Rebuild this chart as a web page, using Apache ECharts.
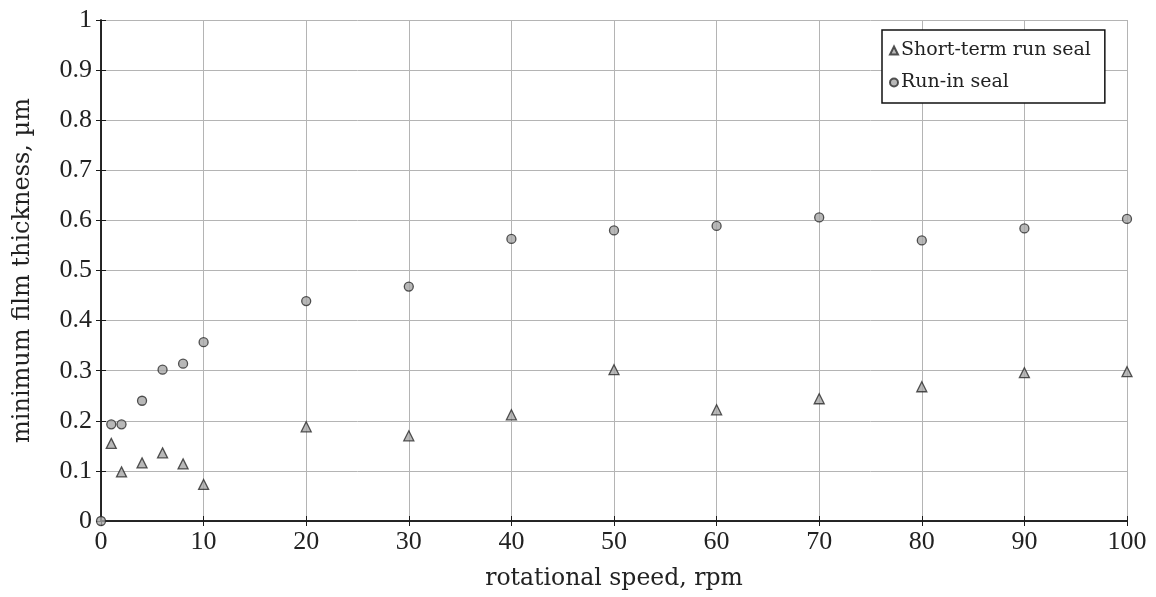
<!DOCTYPE html>
<html>
<head>
<meta charset="utf-8">
<script src="https://cdn.jsdelivr.net/npm/echarts@6/dist/echarts.min.js"></script>
<style>
  html, body { margin: 0; padding: 0; background: #fff; }
  #chart1 { width: 1156px; height: 597px; }
</style>
</head>
<body>
<div id="chart1"></div>
<script>
// rotational speed, rpm
var speed = [0, 1, 2, 4, 6, 8, 10, 20, 30, 40, 50, 60, 70, 80, 90, 100];
var shortTermX = [1, 2, 4, 6, 8, 10, 20, 30, 40, 50, 60, 70, 80, 90, 100];
var shortTerm = [0.155, 0.098, 0.116, 0.136, 0.114, 0.073, 0.188, 0.170, 0.212, 0.302, 0.222, 0.244, 0.268, 0.296, 0.298];
var runIn = [0, 0.193, 0.193, 0.240, 0.302, 0.314, 0.357, 0.439, 0.468, 0.563, 0.580, 0.589, 0.606, 0.560, 0.584, 0.603];
var seriesNames = ['Short-term run seal', 'Run-in seal'];

var font = 'Liberation Serif';
var nameFont = 'DejaVu Serif';
var gridColor = '#b4b4b4';
var axisColor = '#1a1a1a';

function pairs(xs, ys) {
    return xs.map(function(x, i) { return [x, ys[i]]; });
}

var markerStyle = { color: '#a6a6a6', borderColor: '#2a2a2a', borderWidth: 1.3 };

var option = {
    backgroundColor: '#fff',
    animation: false,
    textStyle: { fontFamily: font },
    grid: { left: 101, top: 20, right: 29, bottom: 76, containLabel: false },
    legend: {
        orient: 'vertical',
        left: 882,
        top: 30,
        width: 224,
        padding: [11, 14, 11, 7],
        itemGap: 13,
        itemWidth: 8,
        itemHeight: 8,
        borderColor: '#111',
        borderWidth: 1.5,
        backgroundColor: '#fff',
        textStyle: { fontFamily: nameFont, fontSize: 19, color: '#222', padding: [0, 0, 0, -2] },
        data: [
            { name: seriesNames[0], icon: 'triangle' },
            { name: seriesNames[1], icon: 'circle' }
        ]
    },
    xAxis: [{
        type: 'value',
        min: 0,
        max: 100,
        interval: 10,
        name: 'rotational speed, rpm',
        nameLocation: 'middle',
        nameGap: 46,
        nameTextStyle: { fontFamily: nameFont, fontSize: 23.5, color: '#222' },
        axisLabel: { fontFamily: font, fontSize: 26, color: '#222', margin: 8 },
        axisLine: { lineStyle: { color: axisColor, width: 1.5 } },
        axisTick: { inside: true, length: 5, lineStyle: { color: axisColor } },
        splitLine: { show: true, lineStyle: { color: gridColor, width: 1 } }
    }, {
        type: 'value',
        position: 'top',
        min: 0,
        max: 100,
        interval: 10,
        axisLabel: { show: false },
        axisLine: { lineStyle: { color: axisColor, width: 1.5 } },
        axisTick: { inside: true, length: 5, lineStyle: { color: axisColor } },
        splitLine: { show: false }
    }],
    yAxis: [{
        type: 'value',
        min: 0,
        max: 1,
        interval: 0.1,
        name: 'minimum film thickness, \u00b5m',
        nameLocation: 'middle',
        nameGap: 66,
        nameTextStyle: { fontFamily: nameFont, fontSize: 24, color: '#222' },
        axisLabel: { fontFamily: font, fontSize: 26, color: '#222', margin: 9 },
        axisLine: { lineStyle: { color: axisColor, width: 1.5 } },
        axisTick: { inside: true, length: 5, lineStyle: { color: axisColor } },
        splitLine: { show: true, lineStyle: { color: gridColor, width: 1 } }
    }, {
        type: 'value',
        position: 'right',
        min: 0,
        max: 1,
        interval: 0.1,
        axisLabel: { show: false },
        axisLine: { show: true, lineStyle: { color: axisColor, width: 1.5 } },
        axisTick: { show: true, inside: true, length: 5, lineStyle: { color: axisColor } },
        splitLine: { show: false }
    }],
    series: [{
        name: seriesNames[0],
        type: 'scatter',
        symbol: 'triangle',
        symbolSize: 10,
        itemStyle: markerStyle,
        data: pairs(shortTermX, shortTerm)
    }, {
        name: seriesNames[1],
        type: 'scatter',
        symbol: 'circle',
        symbolSize: 9,
        itemStyle: markerStyle,
        z: 3,
        data: pairs(speed, runIn)
    }]
};

var chart1 = echarts.init(document.getElementById('chart1'));
chart1.setOption(option);
window.onresize = function() {
    chart1.resize();
};
</script>
</body>
</html>
